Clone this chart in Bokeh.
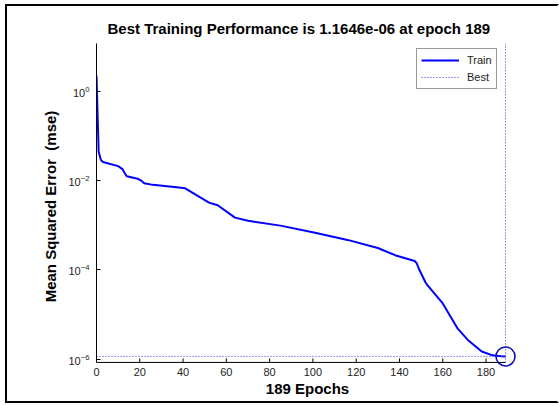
import math
from bokeh.plotting import figure
from bokeh.models import (Range1d, FixedTicker, Legend, LegendItem)
from bokeh.embed import file_html
from bokeh.resources import INLINE

# ---- data ----
epochs = [0, 1, 2, 3, 10, 12, 13, 14, 19, 21, 22, 26, 37, 41, 52, 56, 64, 70,
          85, 101, 116, 130, 138, 147, 148, 149, 152, 153, 160, 167, 172, 178,
          183, 185, 187, 189]
mse = [2.2, 0.044, 0.029, 0.026, 0.021, 0.018, 0.0147, 0.0125, 0.011, 0.0097,
       0.0087, 0.0080, 0.0071, 0.0067, 0.0032, 0.0028, 0.00148, 0.00126,
       0.00098, 0.00068, 0.00047, 0.00031, 0.000214, 0.000158, 0.000141,
       0.000105, 5.3e-5, 4.5e-5, 1.78e-5, 4.8e-6, 2.6e-6, 1.5e-6,
       1.23e-6, 1.2e-6, 1.18e-6, 1.1646e-6]
best_epoch = 189
best_perf = 1.1646e-6
x_ticks = [0, 20, 40, 60, 80, 100, 120, 140, 160, 180]
y_ticks = [1e-6, 1e-4, 1e-2, 1e0]
title_text = "Best Training Performance is 1.1646e-06 at epoch 189"
x_label = "189 Epochs"
y_label = "Mean Squared Error \u00a0(mse)"
x_lim = (0, 189)
y_lim = (8.55e-7, 11.6)

FONT = "Liberation Sans"

# the visible frame has some room past the axes limits so the marker is not cut
p = figure(width=550, height=395, output_backend="svg", toolbar_location=None,
           y_axis_type="log", x_range=Range1d(0, 195),
           y_range=Range1d(5.94e-7, y_lim[1]),
           min_border_left=89, min_border_right=43, min_border_top=37,
           min_border_bottom=36,
           margin=(4, 0, 0, 5),
           styles={"box-sizing": "content-box",
                   "border-left": "2px solid black",
                   "border-top": "2px solid black",
                   "border-bottom": "2px solid black",
                   "border-right": "2px solid white"})
p.outline_line_color = None
p.background_fill_color = "white"
p.border_fill_color = "white"
p.grid.visible = False

p.title.text = title_text
p.title.align = "left"
p.title.offset = 11
p.title.text_font = FONT
p.title.text_font_size = "15px"
p.title.text_font_style = "bold"
p.title.text_color = "black"
p.title.standoff = 13

for ax in (p.xaxis[0], p.yaxis[0]):
    ax.major_tick_line_color = "black"
    ax.major_tick_in = 4
    ax.major_tick_out = 0
    ax.minor_tick_line_color = None
    ax.major_label_text_font = FONT
    ax.major_label_text_font_size = "11px"
    ax.major_label_text_color = "#222222"
    ax.axis_label_text_font = FONT
    ax.axis_label_text_font_size = "15px"
    ax.axis_label_text_font_style = "bold"
    ax.axis_label_text_color = "black"

xa = p.xaxis[0]
ya = p.yaxis[0]
xa.ticker = FixedTicker(ticks=x_ticks)
ya.ticker = FixedTicker(ticks=y_ticks)
ya.bounds = y_lim
ya.axis_line_color = "black"
# x axis line and its inward ticks are drawn at the lower y limit (below)
xa.axis_line_color = None
xa.major_tick_line_color = None
xa.axis_label = x_label
ya.axis_label = y_label
xa.major_label_standoff = -2
ya.major_label_standoff = 7
xa.axis_label_standoff = 1
ya.axis_label_standoff = 6

p.line(list(x_lim), [y_lim[0], y_lim[0]], line_color="black", line_width=1)
p.ray(x=x_ticks, y=[y_lim[0]] * len(x_ticks), length=4, length_units="screen",
      angle=math.pi / 2, line_color="black", line_width=1)

train = p.line(epochs, mse, line_color="#0000ff", line_width=2)
best_v = p.line([best_epoch, best_epoch], list(y_lim), line_color="#3030e0",
                line_width=1, line_dash="1 2")
p.line(list(x_lim), [best_perf, best_perf], line_color="#3030e0",
       line_width=1, line_dash="1 2")
p.scatter([best_epoch], [best_perf], marker="circle", size=19,
          fill_color=None, line_color="#1010b0", line_width=1.6)

legend = Legend(items=[LegendItem(label="Train", renderers=[train]),
                       LegendItem(label="Best", renderers=[best_v])],
                location=(320, 280))
legend.label_text_font = FONT
legend.label_text_font_size = "11px"
legend.label_text_color = "#222222"
legend.label_height = 14
legend.glyph_height = 14
legend.glyph_width = 38
legend.label_standoff = 8
legend.padding = 4
legend.spacing = 3
legend.margin = 0
legend.border_line_color = "#333333"
legend.border_line_width = 1
legend.background_fill_color = "white"
legend.background_fill_alpha = 1
p.add_layout(legend)

open("out.html", "w").write(file_html(p, INLINE))
